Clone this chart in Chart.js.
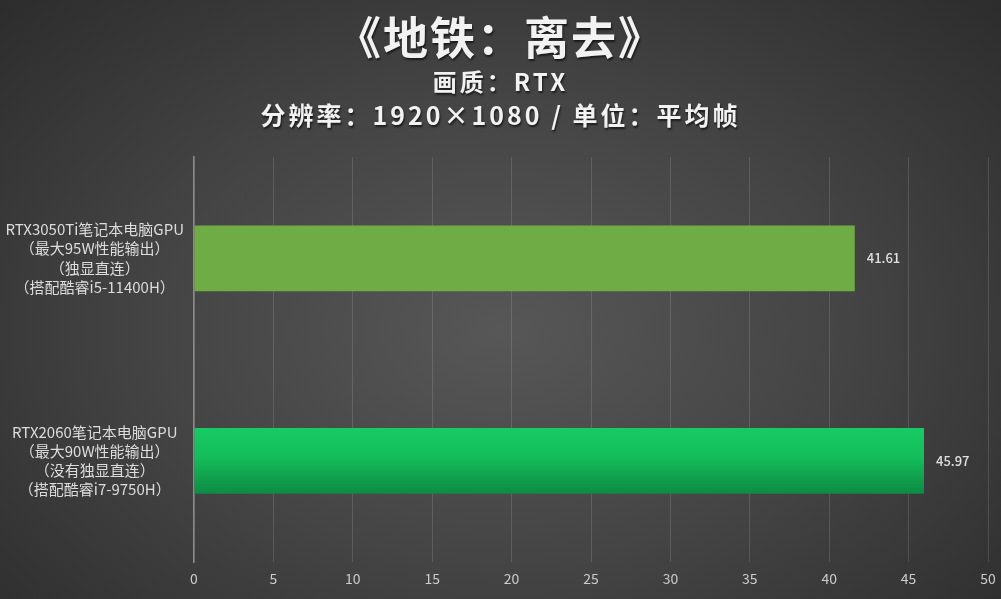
<!DOCTYPE html>
<html>
<head>
<meta charset="utf-8">
<script src="https://cdn.jsdelivr.net/npm/chart.js@4.4.1/dist/chart.umd.min.js"></script>
<style>
  html, body { margin: 0; padding: 0; }
  body {
    width: 1001px; height: 599px; overflow: hidden;
    background: radial-gradient(ellipse 70% 80% at 50% 55%, #575757 0%, #444 50%, #2c2c2c 100%);
  }
  #wrap { width: 1001px; height: 599px; }
</style>
</head>
<body>
<div id="wrap"><canvas id="chart"></canvas></div>
<script>
// data
const titleText = '《地铁：离去》';
const subtitleLines = ['画质：RTX', '分辨率：1920×1080 / 单位：平均帧'];
const categories = [
    ['RTX3050Ti笔记本电脑GPU', '（最大95W性能输出）', '（独显直连）', '（搭配酷睿i5-11400H）'],
    ['RTX2060笔记本电脑GPU', '（最大90W性能输出）', '（没有独显直连）', '（搭配酷睿i7-9750H）']
];
const fps = [41.61, 45.97];
const xTicks = [0, 5, 10, 15, 20, 25, 30, 35, 40, 45, 50];

const FONT = '"Noto Sans CJK SC", "Noto Sans", sans-serif';

// heading drawn above the chart area, spaced out like the original
const heading = {
    id: 'heading',
    beforeDraw(chart) {
        const ctx = chart.ctx;
        const cx = chart.width / 2;
        ctx.save();
        ctx.textAlign = 'center';
        ctx.textBaseline = 'middle';
        ctx.fillStyle = '#f2f2f2';
        ctx.shadowColor = 'rgba(0,0,0,0.6)';
        ctx.shadowOffsetX = 1;
        ctx.shadowOffsetY = 2;
        ctx.shadowBlur = 2;
        ctx.letterSpacing = '2px';
        ctx.font = 'bold 45px ' + FONT;
        ctx.fillText(titleText, cx, 38);
        ctx.letterSpacing = '3px';
        ctx.font = 'bold 24px ' + FONT;
        ctx.fillText(subtitleLines[0], cx, 82);
        ctx.font = 'bold 25px ' + FONT;
        ctx.fillText(subtitleLines[1], cx, 115);
        ctx.restore();
    }
};

// value labels at the end of each bar
const valueLabels = {
    id: 'valueLabels',
    afterDatasetsDraw(chart) {
        const ctx = chart.ctx;
        const meta = chart.getDatasetMeta(0);
        ctx.save();
        ctx.font = '500 13px ' + FONT;
        ctx.fillStyle = '#e0e0e0';
        ctx.textAlign = 'left';
        ctx.textBaseline = 'middle';
        meta.data.forEach(function (bar, i) {
            ctx.fillText(fps[i].toFixed(2), bar.x + 12, bar.y);
        });
        ctx.restore();
    }
};

function barColor(context) {
    if (context.dataIndex === 0) return '#6fac46';
    const chart = context.chart;
    const area = chart.chartArea;
    if (!area) return '#15c45c';
    const yScale = chart.scales.y;
    const cy = yScale.getPixelForValue(1);
    const half = (yScale.height / categories.length) * 0.325 / 2;
    const g = chart.ctx.createLinearGradient(0, cy - half, 0, cy + half);
    g.addColorStop(0, '#17cb63');
    g.addColorStop(0.45, '#14bd5a');
    g.addColorStop(1, '#0e8a44');
    return g;
}

const ctx = document.getElementById('chart').getContext('2d');
new Chart(ctx, {
    type: 'bar',
    data: {
        labels: categories,
        datasets: [{
            data: fps,
            backgroundColor: barColor,
            barPercentage: 0.325,
            categoryPercentage: 1
        }]
    },
    options: {
        indexAxis: 'y',
        responsive: true,
        maintainAspectRatio: false,
        animation: false,
        layout: { padding: { top: 157, right: 13, bottom: 4, left: 0 } },
        plugins: {
            legend: { display: false },
            tooltip: { enabled: false }
        },
        scales: {
            x: {
                min: 0,
                max: 50,
                afterBuildTicks(scale) {
                    scale.ticks = xTicks.map(function (v) { return { value: v }; });
                },
                afterFit(scale) {
                    scale.paddingLeft = 0;
                    scale.paddingRight = 0;
                },
                ticks: {
                    color: '#cccccc',
                    font: { family: FONT, size: 14 },
                    padding: 8
                },
                grid: {
                    color: 'rgba(255,255,255,0.13)',
                    drawTicks: false
                },
                border: { display: false }
            },
            y: {
                afterFit(scale) {
                    scale.width = 194;
                    scale.paddingTop = 0;
                    scale.paddingBottom = 0;
                },
                ticks: {
                    color: '#dddddd',
                    font: { family: FONT, size: 15, lineHeight: 1.27 },
                    crossAlign: 'center',
                    padding: 10
                },
                grid: { display: false, drawTicks: false },
                border: { display: true, color: '#8a8a8a', width: 1.5 }
            }
        }
    },
    plugins: [heading, valueLabels]
});
</script>
</body>
</html>
